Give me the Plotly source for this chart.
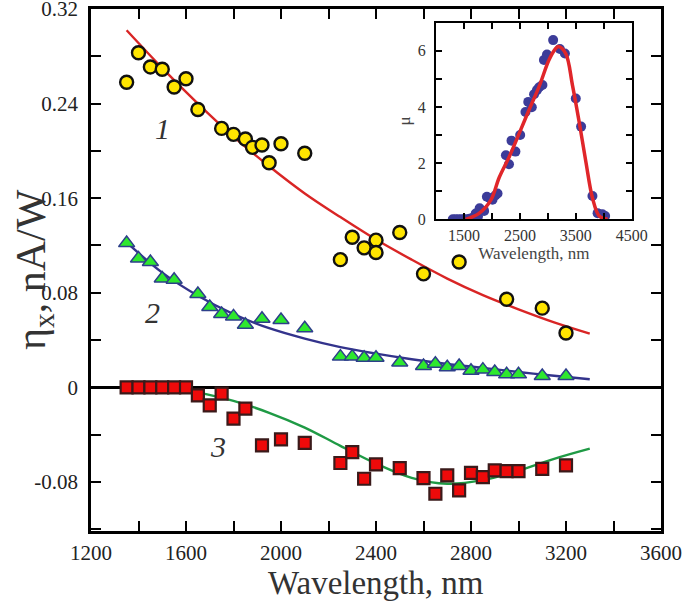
import plotly.graph_objects as go

# ---------------- data ----------------
# Series 1 (yellow circles)
x1 = [1350, 1400, 1450, 1500, 1550, 1600, 1650, 1750, 1800, 1850, 1880, 1920, 1950, 2000, 2100,
      2250, 2300, 2350, 2400, 2400, 2500, 2600, 2750, 2950, 3100, 3200]
y1 = [0.258, 0.283, 0.271, 0.269, 0.254, 0.261, 0.235, 0.219, 0.214, 0.210, 0.203, 0.205, 0.190, 0.206, 0.198,
      0.108, 0.127, 0.118, 0.1245, 0.114, 0.131, 0.096, 0.106, 0.0745, 0.067, 0.046]
fit1_x = [1350, 1500, 1650, 1800, 1950, 2100, 2250, 2400, 2550, 2700, 2850, 3000, 3150, 3300]
fit1_y = [0.302, 0.270, 0.240, 0.212, 0.187, 0.164, 0.144, 0.125, 0.108, 0.092, 0.078, 0.066, 0.055, 0.0455]

# Series 2 (green triangles)
x2 = [1350, 1400, 1450, 1500, 1550, 1650, 1700, 1750, 1800, 1850, 1920, 2000, 2100, 2250, 2300, 2350,
      2400, 2500, 2600, 2650, 2700, 2750, 2800, 2850, 2900, 2950, 3000, 3100, 3200]
y2 = [0.122, 0.109, 0.106, 0.092, 0.091, 0.079, 0.068, 0.062, 0.060, 0.053, 0.058, 0.057, 0.050, 0.026,
      0.026, 0.025, 0.025, 0.021, 0.018, 0.020, 0.017, 0.018, 0.014, 0.015, 0.013, 0.011, 0.011, 0.0096, 0.0096]
fit2_x = [1350, 1500, 1650, 1800, 1950, 2100, 2250, 2400, 2550, 2700, 2850, 3000, 3150, 3300]
fit2_y = [0.1226, 0.0970, 0.0775, 0.0620, 0.0500, 0.0412, 0.0340, 0.0285, 0.0238, 0.0198, 0.0165, 0.0130, 0.0098, 0.0068]

# Series 3 (red squares)
x3 = [1350, 1400, 1450, 1500, 1550, 1600, 1650, 1700, 1750, 1800, 1850, 1920, 2000, 2100, 2250, 2300,
      2350, 2400, 2500, 2600, 2650, 2700, 2750, 2800, 2850, 2900, 2950, 3000, 3100, 3200]
y3 = [0, 0, 0, 0, 0, 0, -0.0068, -0.0152, -0.0053, -0.0265, -0.018, -0.049, -0.044, -0.047, -0.064, -0.0548,
      -0.0773, -0.0652, -0.0683, -0.0768, -0.090, -0.0745, -0.0872, -0.0723, -0.076, -0.0703, -0.0709,
      -0.0709, -0.0689, -0.066]
fit3_x = [1350, 1500, 1650, 1800, 1950, 2100, 2250, 2400, 2550, 2700, 2850, 3000, 3150, 3300]
fit3_y = [0, -0.0012, -0.0045, -0.0115, -0.0215, -0.0340, -0.0495, -0.0645, -0.0765, -0.0815, -0.0785,
          -0.0705, -0.0605, -0.0519]

# Inset: mu
xi = [1300, 1350, 1400, 1450, 1500, 1550, 1600, 1650, 1710, 1750, 1780, 1860, 1910, 1960, 2010, 2060, 2100,
      2250, 2305, 2350, 2420, 2505, 2600, 2650, 2713, 2754, 2805, 2845, 2903, 2930, 2985, 3095, 3215, 3305,
      3500, 3595, 3798, 3890, 3975, 4025]
yi = [0, 0, 0, 0, 0, 0, 0.02, 0.05, 0.21, 0.1, 0.39, 0.3, 0.8, 0.75, 0.7, 0.85, 0.92,
      2.28, 1.96, 2.8, 2.41, 3.0, 3.82, 4.18, 3.99, 4.45, 4.6, 4.7, 4.78, 5.67, 5.87, 6.38, 6.06, 5.9,
      4.3, 3.3, 0.83, 0.22, 0.18, 0.12]
fiti_x = [1530, 1770, 1980, 2130, 2310, 2490, 2665, 2845, 3020, 3140, 3190, 3320, 3440, 3560, 3680, 3800, 3920, 4070]
fiti_y = [0, 0.21, 0.68, 1.49, 2.23, 3.07, 3.9, 4.73, 5.67, 6.08, 6.15, 5.9, 4.78, 3.47, 2.05, 0.75, 0.12, 0]

# ticks
main_xticks = list(range(1200, 3601, 200))
main_xtext = [str(v) if (v - 1200) % 400 == 0 else "" for v in main_xticks]
main_yticks = [-0.12, -0.08, -0.04, 0, 0.04, 0.08, 0.12, 0.16, 0.20, 0.24, 0.28, 0.32]
main_ytext = ["", "-0.08", "", "0", "", "0.08", "", "0.16", "", "0.24", "", "0.32"]
inset_xticks = list(range(1000, 4501, 500))
inset_xtext = ["", "1500", "", "2500", "", "3500", "", "4500"]
inset_yticks = [0, 1, 2, 3, 4, 5, 6, 7]
inset_ytext = ["0", "", "2", "", "4", "", "6", ""]

FONT = "Liberation Serif"
TXT = "#222222"

fig = go.Figure()

fig.add_trace(go.Scatter(x=fit1_x, y=fit1_y, mode="lines", line=dict(color="#d92525", width=2.4, shape="spline"),
                         xaxis="x", yaxis="y", hoverinfo="skip"))
fig.add_trace(go.Scatter(x=fit2_x, y=fit2_y, mode="lines", line=dict(color="#33338c", width=2.4, shape="spline"),
                         xaxis="x", yaxis="y", hoverinfo="skip"))
fig.add_trace(go.Scatter(x=fit3_x, y=fit3_y, mode="lines", line=dict(color="#1f9a45", width=2.4, shape="spline"),
                         xaxis="x", yaxis="y", hoverinfo="skip"))

fig.add_trace(go.Scatter(x=x1, y=y1, mode="markers",
                         marker=dict(symbol="circle", size=13, color="#ffe500", line=dict(color="#111111", width=2.4)),
                         xaxis="x", yaxis="y"))
fig.add_trace(go.Scatter(x=x2, y=y2, mode="markers",
                         marker=dict(symbol="triangle-up", size=14, color="#2ee82e", line=dict(color="#2d3f8a", width=1.5)),
                         xaxis="x", yaxis="y"))
fig.add_trace(go.Scatter(x=x3, y=y3, mode="markers",
                         marker=dict(symbol="square", size=12, color="#ee0a0a", line=dict(color="#3a1a1a", width=2.2)),
                         xaxis="x", yaxis="y"))

# inset
fig.add_trace(go.Scatter(x=xi, y=yi, mode="markers",
                         marker=dict(symbol="circle", size=10, color="#3c3c99"),
                         xaxis="x2", yaxis="y2"))
fig.add_trace(go.Scatter(x=fiti_x, y=fiti_y, mode="lines", line=dict(color="#e0262a", width=3.5, shape="spline"),
                         xaxis="x2", yaxis="y2", hoverinfo="skip"))

axis_common = dict(showline=True, linecolor="black", mirror="ticks", ticks="inside",
                   tickcolor="black", showgrid=False, automargin=False, ticklabeloverflow="allow")

fig.update_layout(
    width=685, height=604,
    margin=dict(l=91, r=24, t=9, b=73),
    paper_bgcolor="white", plot_bgcolor="white",
    showlegend=False,
    font=dict(family=FONT, color=TXT),
    xaxis=dict(domain=[0, 1], range=[1200, 3600], tickvals=main_xticks, ticktext=main_xtext,
               linewidth=2.5, ticklen=10, tickwidth=2, zeroline=False,
               tickfont=dict(size=21, family=FONT, color=TXT), ticklabelstandoff=1,
               **axis_common),
    yaxis=dict(domain=[0, 1], range=[-0.1215, 0.32], tickvals=main_yticks, ticktext=main_ytext,
               linewidth=2.5, ticklen=10, tickwidth=2, zeroline=True, zerolinecolor="black", zerolinewidth=2.5,
               tickfont=dict(size=21, family=FONT, color=TXT), ticklabelstandoff=6,
               **axis_common),
    xaxis2=dict(domain=[0.6053, 0.9486], range=[1000, 4500], anchor="y2", tickvals=inset_xticks, ticktext=inset_xtext,
                linewidth=2, ticklen=6, tickwidth=1.5, zeroline=False,
                tickfont=dict(size=16, family=FONT, color="#333333"), ticklabelstandoff=0,
                title=dict(text="Wavelength, nm", font=dict(size=17, family=FONT, color="#444444"), standoff=1),
                **axis_common),
    yaxis2=dict(domain=[0.5971, 0.9738], range=[0, 7], anchor="x2", tickvals=inset_yticks, ticktext=inset_ytext,
                linewidth=2, ticklen=6, tickwidth=1.5, zeroline=False,
                tickfont=dict(size=16, family=FONT, color="#333333"), ticklabelstandoff=5,
                title=dict(text="μ", font=dict(size=17, family=FONT, color="#444444"), standoff=3),
                **axis_common),
    annotations=[
        dict(x=0.5, y=-0.0996, xref="paper", yref="paper", text="Wavelength, nm", showarrow=False,
             xanchor="center", yanchor="middle", font=dict(size=33, family=FONT, color="#333333")),
        dict(x=-0.1, y=0.5, xref="paper", yref="paper", text="η<sub>x</sub>, nA/W", showarrow=False,
             textangle=-90, xanchor="center", yanchor="middle", font=dict(size=42, family=FONT, color="#333333")),
        dict(x=1500, y=0.219, xref="x", yref="y", text="<i>1</i>", showarrow=False,
             font=dict(size=30, family=FONT, color="#333333")),
        dict(x=1460, y=0.063, xref="x", yref="y", text="<i>2</i>", showarrow=False,
             font=dict(size=30, family=FONT, color="#333333")),
        dict(x=1735, y=-0.050, xref="x", yref="y", text="<i>3</i>", showarrow=False,
             font=dict(size=30, family=FONT, color="#333333")),
    ],
)

fig.write_html("out.html", config={"displayModeBar": False},
               post_script="document.body.style.margin='0px';document.body.style.overflow='hidden';")
